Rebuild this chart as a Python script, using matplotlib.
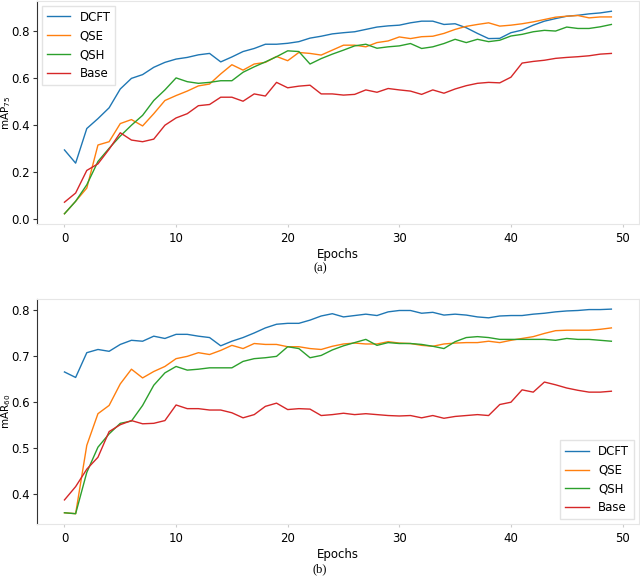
import numpy as np
import matplotlib
matplotlib.use("Agg")
import matplotlib.pyplot as plt

epochs = np.arange(50)

# (a) mAP75
dcft_ap = [0.295, 0.239, 0.386, 0.428, 0.474, 0.554, 0.599, 0.615, 0.646, 0.667,
           0.681, 0.688, 0.699, 0.705, 0.669, 0.690, 0.713, 0.726, 0.744, 0.744,
           0.748, 0.755, 0.770, 0.778, 0.788, 0.793, 0.797, 0.807, 0.817, 0.822,
           0.825, 0.835, 0.842, 0.842, 0.828, 0.831, 0.814, 0.790, 0.768, 0.769,
           0.793, 0.804, 0.825, 0.842, 0.853, 0.863, 0.867, 0.873, 0.877, 0.884]
qse_ap = [0.024, 0.077, 0.133, 0.316, 0.330, 0.407, 0.424, 0.397, 0.449, 0.505,
          0.526, 0.545, 0.567, 0.575, 0.618, 0.657, 0.634, 0.660, 0.667, 0.692,
          0.674, 0.709, 0.705, 0.698, 0.719, 0.740, 0.740, 0.733, 0.751, 0.758,
          0.775, 0.768, 0.776, 0.778, 0.790, 0.807, 0.820, 0.828, 0.835, 0.821,
          0.825, 0.831, 0.839, 0.849, 0.859, 0.863, 0.866, 0.856, 0.860, 0.860]
qsh_ap = [0.024, 0.077, 0.147, 0.246, 0.302, 0.354, 0.400, 0.442, 0.505, 0.550,
          0.601, 0.585, 0.578, 0.582, 0.589, 0.589, 0.625, 0.648, 0.669, 0.691,
          0.716, 0.713, 0.660, 0.683, 0.702, 0.719, 0.737, 0.744, 0.727, 0.733,
          0.737, 0.747, 0.726, 0.733, 0.747, 0.765, 0.751, 0.765, 0.755, 0.761,
          0.779, 0.786, 0.797, 0.803, 0.800, 0.817, 0.811, 0.811, 0.818, 0.828]
base_ap = [0.073, 0.112, 0.208, 0.236, 0.298, 0.368, 0.337, 0.330, 0.341, 0.400,
           0.431, 0.449, 0.483, 0.488, 0.519, 0.519, 0.502, 0.533, 0.524, 0.582,
           0.559, 0.566, 0.570, 0.533, 0.533, 0.528, 0.531, 0.550, 0.540, 0.556,
           0.550, 0.545, 0.531, 0.550, 0.536, 0.554, 0.568, 0.578, 0.582, 0.580,
           0.604, 0.664, 0.671, 0.676, 0.684, 0.688, 0.691, 0.695, 0.702, 0.705]

# (b) mAR
dcft_ar = [0.665, 0.653, 0.707, 0.714, 0.710, 0.725, 0.734, 0.732, 0.743, 0.738,
           0.747, 0.747, 0.743, 0.740, 0.722, 0.732, 0.740, 0.750, 0.761, 0.769,
           0.771, 0.771, 0.778, 0.787, 0.792, 0.785, 0.788, 0.791, 0.788, 0.796,
           0.799, 0.799, 0.793, 0.795, 0.789, 0.791, 0.789, 0.785, 0.783, 0.787,
           0.788, 0.788, 0.791, 0.793, 0.796, 0.798, 0.799, 0.801, 0.801, 0.802]
qse_ar = [0.358, 0.356, 0.505, 0.574, 0.592, 0.639, 0.671, 0.652, 0.666, 0.677,
          0.694, 0.699, 0.707, 0.703, 0.712, 0.723, 0.716, 0.727, 0.725, 0.725,
          0.720, 0.720, 0.716, 0.714, 0.721, 0.726, 0.728, 0.726, 0.726, 0.731,
          0.728, 0.727, 0.723, 0.721, 0.726, 0.728, 0.729, 0.729, 0.732, 0.729,
          0.734, 0.738, 0.742, 0.749, 0.755, 0.756, 0.756, 0.756, 0.758, 0.761]
qsh_ar = [0.358, 0.356, 0.446, 0.501, 0.530, 0.553, 0.558, 0.592, 0.636, 0.663,
          0.677, 0.669, 0.671, 0.674, 0.674, 0.674, 0.688, 0.694, 0.696, 0.699,
          0.720, 0.716, 0.696, 0.701, 0.713, 0.722, 0.729, 0.736, 0.723, 0.729,
          0.727, 0.727, 0.725, 0.721, 0.716, 0.731, 0.740, 0.742, 0.740, 0.736,
          0.736, 0.736, 0.736, 0.736, 0.734, 0.738, 0.736, 0.736, 0.734, 0.732]
base_ar = [0.386, 0.415, 0.453, 0.479, 0.535, 0.550, 0.559, 0.552, 0.553, 0.559,
           0.593, 0.585, 0.585, 0.582, 0.582, 0.576, 0.565, 0.572, 0.590, 0.597,
           0.583, 0.585, 0.584, 0.570, 0.572, 0.575, 0.572, 0.574, 0.572, 0.570,
           0.569, 0.570, 0.565, 0.570, 0.564, 0.568, 0.570, 0.572, 0.570, 0.594,
           0.599, 0.626, 0.621, 0.643, 0.637, 0.630, 0.625, 0.621, 0.621, 0.623]

names = ["DCFT", "QSE", "QSH", "Base"]
colors = ["#1f77b4", "#ff7f0e", "#2ca02c", "#d62728"]

plt.rcParams["font.size"] = 8.5

fig = plt.figure(figsize=(6.4, 5.77), dpi=100)
ax1 = fig.add_axes([0.058, 0.612, 0.94, 0.386])
ax2 = fig.add_axes([0.058, 0.092, 0.94, 0.390])


def style(ax):
    for s in ["top", "bottom", "right"]:
        ax.spines[s].set_color("#e6e6e6")
    ax.spines["left"].set_color("#333333")
    ax.tick_params(axis="x", length=2, color="#cccccc", pad=4)
    ax.tick_params(axis="y", length=3, color="#333333", pad=2)


for ax, series, ylab, loc in [
        (ax1, [dcft_ap, qse_ap, qsh_ap, base_ap], "mAP$_{75}$", "upper left"),
        (ax2, [dcft_ar, qse_ar, qsh_ar, base_ar], "mAR$_{60}$", "lower right")]:
    for ys, name, c in zip(series, names, colors):
        ax.plot(epochs, ys, color=c, lw=1.0, label=name)
    style(ax)
    ax.set_xlabel("Epochs", labelpad=2)
    ax.set_ylabel(ylab, fontsize=7.5)
    ax.yaxis.set_label_coords(-0.040, 0.5)
    ax.set_xticks([0, 10, 20, 30, 40, 50])
    leg = ax.legend(loc=loc, fontsize=8.5, fancybox=False, borderaxespad=0.4)
    leg.get_frame().set_edgecolor("#dddddd")

ax1.set_yticks([0.0, 0.2, 0.4, 0.6, 0.8])
ax2.set_yticks([0.4, 0.5, 0.6, 0.7, 0.8])

fig.text(0.5, 1 - 268 / 577, "(a)", ha="center", va="center",
         family="Liberation Serif", fontsize=9)
fig.text(0.5, 1 - 569 / 577, "(b)", ha="center", va="center",
         family="Liberation Serif", fontsize=9)

fig.savefig("out.png", dpi=100)
